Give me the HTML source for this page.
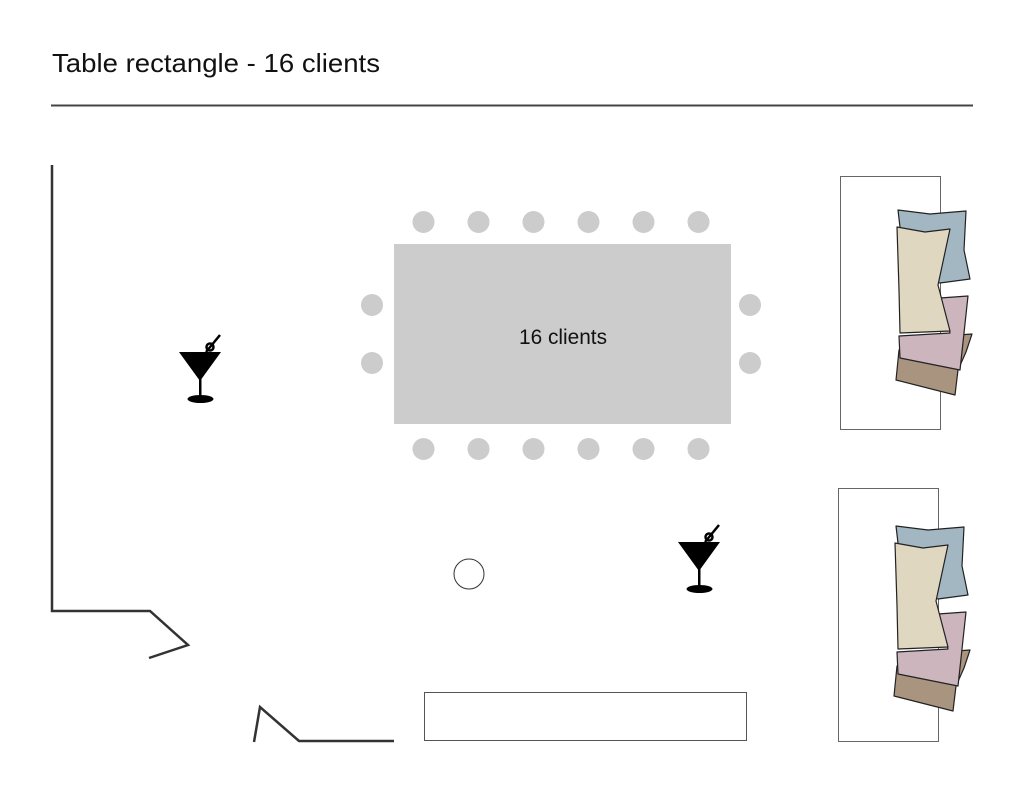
<!DOCTYPE html>
<html><head><meta charset="utf-8"><style>html,body{margin:0;padding:0;background:#fff}svg{display:block}</style></head>
<body>
<svg width="1024" height="791" viewBox="0 0 1024 791" xmlns="http://www.w3.org/2000/svg" font-family="Liberation Sans, sans-serif">
<text x="52" y="72" font-size="26" fill="#111" textLength="328" lengthAdjust="spacingAndGlyphs">Table rectangle - 16 clients</text>
<line x1="51" y1="105.5" x2="973" y2="105.5" stroke="#444" stroke-width="2"/>
<polyline points="52,165 52,611 150,611 188,645 149,658" fill="none" stroke="#333" stroke-width="2.5"/>
<polyline points="254,742 260,707 299,741 394,741" fill="none" stroke="#333" stroke-width="2.5"/>
<rect x="394" y="244" width="337" height="180" fill="#cccccc"/>
<text x="563" y="344" font-size="21" text-anchor="middle" fill="#111" textLength="88" lengthAdjust="spacingAndGlyphs">16 clients</text>
<g fill="#cccccc">
<circle cx="423.5" cy="222" r="11"/><circle cx="478.5" cy="222" r="11"/><circle cx="533.5" cy="222" r="11"/><circle cx="588.5" cy="222" r="11"/><circle cx="643.5" cy="222" r="11"/><circle cx="698.5" cy="222" r="11"/>
<circle cx="423.5" cy="449" r="11"/><circle cx="478.5" cy="449" r="11"/><circle cx="533.5" cy="449" r="11"/><circle cx="588.5" cy="449" r="11"/><circle cx="643.5" cy="449" r="11"/><circle cx="698.5" cy="449" r="11"/>
<circle cx="372" cy="305" r="11"/><circle cx="372" cy="363" r="11"/><circle cx="750" cy="305" r="11"/><circle cx="750" cy="363" r="11"/>
</g>
<circle cx="469" cy="574" r="15" fill="none" stroke="#333" stroke-width="1"/>
<rect x="424.5" y="692.5" width="322" height="48" fill="none" stroke="#555" stroke-width="1"/>
<g id="glass">
<polygon points="179,352 221,352 200,381" fill="#000"/>
<rect x="199" y="378" width="2.5" height="20" fill="#000"/>
<ellipse cx="200.5" cy="399" rx="13" ry="4" fill="#000"/>
<line x1="206" y1="352" x2="220" y2="335" stroke="#000" stroke-width="2.5"/>
<circle cx="210" cy="347" r="3.5" fill="none" stroke="#000" stroke-width="2.5"/>
</g>
<use href="#glass" transform="translate(499,190)"/>
<rect x="840.5" y="176.5" width="100" height="253" fill="none" stroke="#666" stroke-width="1"/>
<rect x="838.5" y="488.5" width="100" height="253" fill="none" stroke="#666" stroke-width="1"/>
<g id="cush" stroke="#222" stroke-width="1.2" stroke-linejoin="round">
<path d="M898,210 L930,214 L966,211 L964,250 L970,279 L940,283 L905,270 Z" fill="#a3b7c2"/>
<path d="M899,350 L958,335 L972,334 L966,352 L958,370 L955,395 L896,380 Z" fill="#a99480"/>
<path d="M899,336 L950,333 L940,298 L968,296 L960,370 L900,358 Z" fill="#cdb5bd"/>
<path d="M897,227 L925,232 L950,229 L938,285 L950,331 L900,333 L899,290 Z" fill="#e0d7c1"/>
</g>
<use href="#cush" transform="translate(-2,316)"/>
</svg>
</body></html>
